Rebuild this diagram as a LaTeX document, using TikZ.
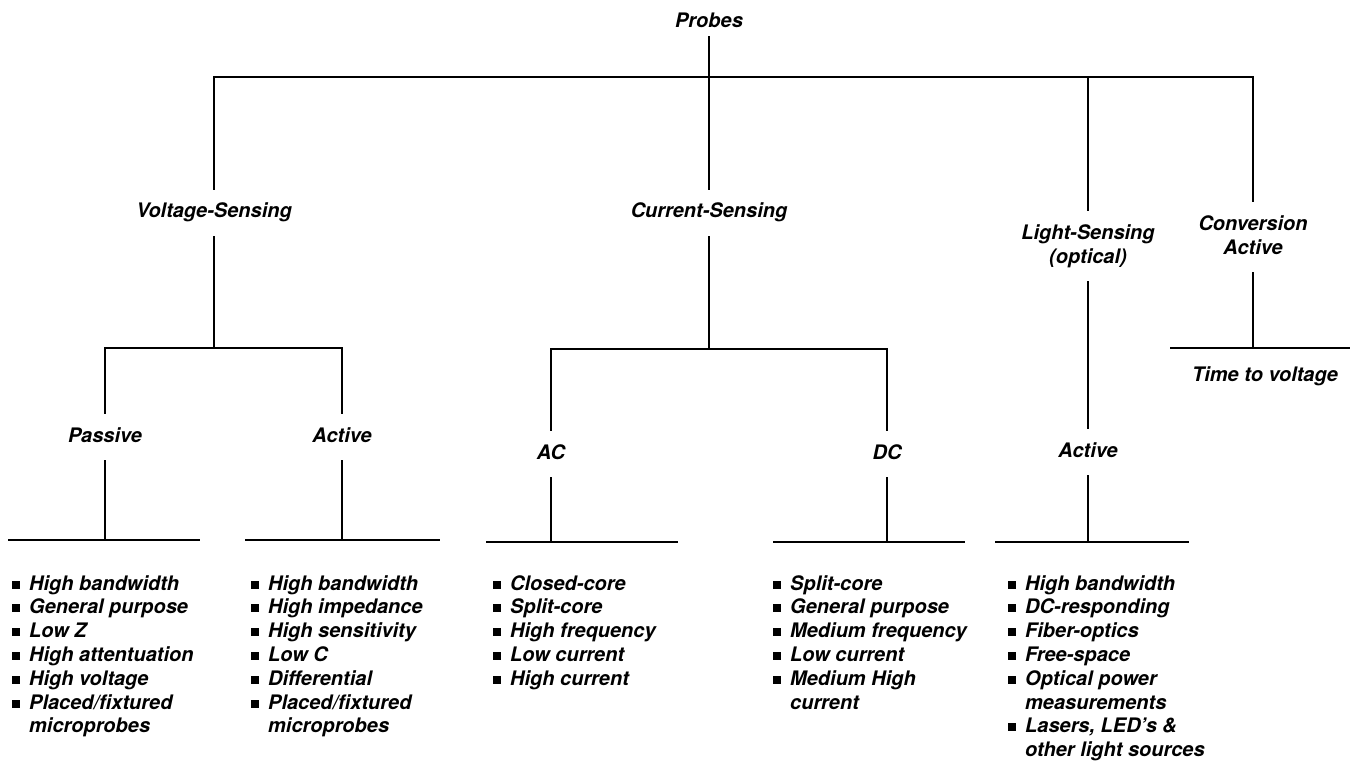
\documentclass[tikz,border=0pt]{standalone}
\usepackage{fontspec}
\setmainfont{TeX Gyre Heros}
\usetikzlibrary{calc}

% square bullet and the indent of a continued line
\newcommand\sq{\rule[1.5pt]{8pt}{8pt}\hspace{9pt}}
\newcommand\ind{\hphantom{\sq}}

\begin{document}
\begin{tikzpicture}[x=1pt,y=-1pt,
  lbl/.style={font=\fontsize{20}{24}\selectfont\bfseries\itshape,
              inner xsep=1pt,inner ysep=13pt,text height=15pt,text depth=5pt,
              align=center},
  lbltwo/.style={lbl,text height=39pt},
  pts/.style={font=\fontsize{20}{23.8}\selectfont\bfseries\itshape,
              anchor=north west,inner sep=0pt,align=left},
  tree/.style={line width=1.8pt}]

  \useasboundingbox (0,0) rectangle (1354,762);

  % ---- top level ---------------------------------------------------------
  \node[lbl,inner ysep=3pt] (probes) at (709,23) {Probes};
  \coordinate (top) at (709,77);
  \node[lbl] (volt) at (214,213) {Voltage-Sensing};
  \node[lbl] (curr) at (709,213) {Current-Sensing};
  \node[lbltwo] (light) at (1088,246) {Light-Sensing\\(optical)};
  \node[lbltwo] (conv) at (1253,237) {Conversion\\Active};

  \draw[tree] (probes) -- (curr);
  \draw[tree] (volt.north) |- (top) -| (conv.north);
  \draw[tree] (top -| light) -- (light.north);

  % ---- voltage-sensing ---------------------------------------------------
  \coordinate (vbar) at (214,348);
  \node[lbl] (pas) at (105,437) {Passive};
  \node[lbl] (vact) at (342,437) {Active};
  \draw[tree] (volt.south) -- (vbar);
  \draw[tree] (pas.north) |- (vbar) -| (vact.north);

  \coordinate (pasbar) at (105,540);
  \coordinate (vactbar) at (342,540);
  \draw[tree] (pas.south) -- (pasbar);
  \draw[tree] ($(pasbar)+(-97,0)$) -- ($(pasbar)+(95,0)$);
  \draw[tree] (vact.south) -- (vactbar);
  \draw[tree] ($(vactbar)+(-97,0)$) -- ($(vactbar)+(98,0)$);

  % ---- current-sensing ---------------------------------------------------
  \coordinate (cbar) at (709,349);
  \node[lbl] (ac) at (551,454) {AC};
  \node[lbl] (dc) at (887,454) {DC};
  \draw[tree] (curr.south) -- (cbar);
  \draw[tree] (ac.north) |- (cbar) -| (dc.north);

  \coordinate (acbar) at (551,542);
  \coordinate (dcbar) at (887,542);
  \draw[tree] (ac.south) -- (acbar);
  \draw[tree] ($(acbar)+(-65,0)$) -- ($(acbar)+(127,0)$);
  \draw[tree] (dc.south) -- (dcbar);
  \draw[tree] ($(dcbar)+(-114,0)$) -- ($(dcbar)+(78,0)$);

  % ---- light-sensing -----------------------------------------------------
  \node[lbl] (lact) at (1088,452) {Active};
  \coordinate (lbar) at (1088,542);
  \draw[tree] (light.south) -- (lact.north);
  \draw[tree] (lact.south) -- (lbar);
  \draw[tree] ($(lbar)+(-93,0)$) -- ($(lbar)+(101,0)$);

  % ---- conversion --------------------------------------------------------
  \coordinate (convbar) at (1253,348);
  \draw[tree] (conv.south) -- (convbar);
  \draw[tree] ($(convbar)+(-83,0)$) -- ($(convbar)+(97,0)$);
  \node[lbl,inner ysep=2pt] (time) at (1265,376) {Time to voltage};

  % ---- feature lists -----------------------------------------------------
  \node[pts] (paslist) at (12,575)
    {\sq High bandwidth\\ \sq General purpose\\ \sq Low Z\\
     \sq High attentuation\\ \sq High voltage\\ \sq Placed/fixtured\\
     \ind microprobes};
  \node[pts] (vactlist) at (251,575)
    {\sq High bandwidth\\ \sq High impedance\\ \sq High sensitivity\\
     \sq Low C\\ \sq Differential\\ \sq Placed/fixtured\\
     \ind microprobes};
  \node[pts] (aclist) at (493,575)
    {\sq Closed-core\\ \sq Split-core\\ \sq High frequency\\
     \sq Low current\\ \sq High current};
  \node[pts] (dclist) at (773,575)
    {\sq Split-core\\ \sq General purpose\\ \sq Medium frequency\\
     \sq Low current\\ \sq Medium High\\ \ind current};
  \node[pts] (lactlist) at (1008,575)
    {\sq High bandwidth\\ \sq DC-responding\\ \sq Fiber-optics\\
     \sq Free-space\\ \sq Optical power\\ \ind measurements\\
     \sq Lasers, LED’s \&\\ \ind other light sources};

\end{tikzpicture}
\end{document}
